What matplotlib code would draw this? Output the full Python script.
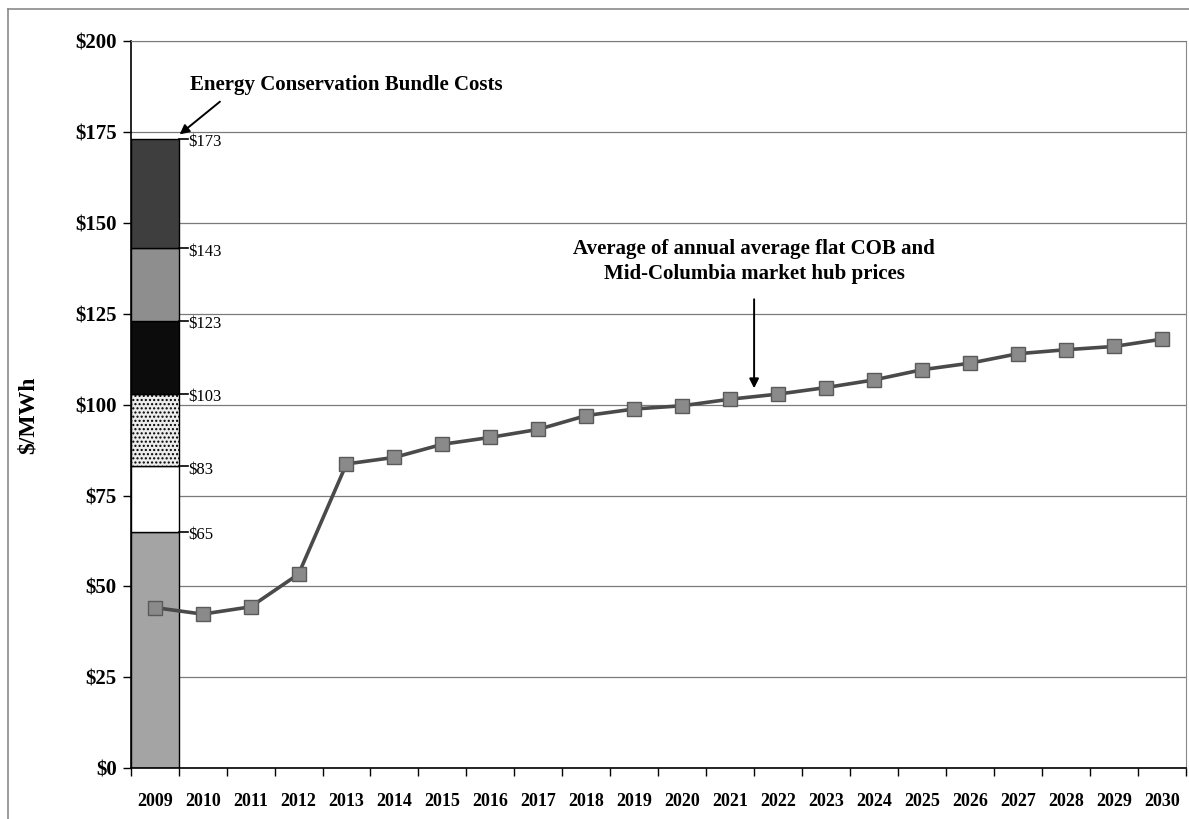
import matplotlib.pyplot as plt
from matplotlib.lines import Line2D

# chart data
years = [str(y) for y in range(2009, 2031)]
market_price = [44.2, 42.4, 44.4, 53.4, 83.7, 85.5, 89.1, 91.0, 93.2, 97.0, 98.8,
                99.7, 101.5, 102.9, 104.7, 106.8, 109.6, 111.4, 114.0, 115.1, 116.0, 118.0]

# conservation bundle cost steps (cumulative tops)
bundle_tops = [65, 83, 103, 123, 143, 173]
bundle_colors = ['#a4a4a4', '#ffffff', '#ececec', '#0c0c0c', '#8e8e8e', '#3e3e3e']
bundle_hatch = [None, None, '....', None, None, None]
y_ticks = [0, 25, 50, 75, 100, 125, 150, 175, 200]

plt.rcParams['font.family'] = ['Liberation Serif', 'DejaVu Serif']
plt.rcParams['hatch.color'] = '#888888'

fig = plt.figure(figsize=(11.89, 8.19), dpi=100)
ax = fig.add_axes([130.7 / 1189, 1 - 768.3 / 819, 1055 / 1189, 727.3 / 819])

x = list(range(len(years)))

# stacked bar for 2009
bottom = 0
for top, col, h in zip(bundle_tops, bundle_colors, bundle_hatch):
    ax.bar(0, top - bottom, bottom=bottom, width=1.0, color=col, edgecolor='black',
           linewidth=1.0, hatch=h, zorder=2)
    bottom = top

# small leader lines + value labels to the right of the bar
for top in bundle_tops:
    ax.plot([0.5, 0.69], [top, top], color='black', lw=1.2, zorder=3, clip_on=False)
    ax.text(0.71, top - 0.9, f'${top}', fontsize=12, va='center', ha='left', zorder=4)

# market price line
ax.plot(x, market_price, color='#4a4a4a', lw=2.6, marker='s', markersize=10,
        markerfacecolor='#8a8a8a', markeredgecolor='#5a5a5a', markeredgewidth=1.0, zorder=5)

ax.set_xlim(-0.5, len(years) - 0.5)
ax.set_ylim(0, 200)
ax.set_yticks(y_ticks)
ax.set_yticklabels([f'${v}' for v in y_ticks], fontsize=15, fontweight='bold')
ax.set_xticks(x)
ax.set_xticklabels(years, fontsize=13, fontweight='bold')
ax.set_xticks([i - 0.5 for i in range(len(years) + 1)], minor=True)
ax.tick_params(axis='x', which='major', length=0, pad=18)
ax.tick_params(axis='x', which='minor', length=6, direction='out', width=1)
ax.tick_params(axis='y', length=6, direction='out', width=1, pad=4)

ax.grid(axis='y', color='#7a7a7a', lw=0.9, zorder=0)
ax.set_axisbelow(True)
ax.spines['left'].set_linewidth(1.2)
ax.spines['bottom'].set_linewidth(1.2)
ax.spines['top'].set_color('#7a7a7a')
ax.spines['right'].set_color('#8a8a8a')
ax.spines['right'].set_linestyle((0, (2, 1)))

ax.set_ylabel('$/MWh', fontsize=17, fontweight='bold')
ax.yaxis.set_label_coords(-0.087, 0.485)

# annotations
ax.annotate('Energy Conservation Bundle Costs', xy=(0.52, 174.3), xytext=(0.74, 187.8),
            fontsize=15, fontweight='bold', ha='left', va='center',
            arrowprops=dict(arrowstyle='-|>', color='black', lw=1.4, shrinkA=4, shrinkB=0,
                            mutation_scale=14, relpos=(0.12, 0.0)))
ax.annotate('Average of annual average flat COB and\nMid-Columbia market hub prices',
            xy=(12.5, 104.5), xytext=(12.5, 139.4),
            fontsize=15, fontweight='bold', ha='center', va='center', linespacing=1.35,
            arrowprops=dict(arrowstyle='-|>', color='black', lw=1.4, shrinkA=9, shrinkB=0,
                            mutation_scale=14))

# outer frame of the original figure
fx = 8 / 1189
fy = 1 - 9 / 819
fig.add_artist(Line2D([fx, fx], [0, fy], color='#8a8a8a', lw=1.2, transform=fig.transFigure))
fig.add_artist(Line2D([fx, 1], [fy, fy], color='#8a8a8a', lw=1.2, transform=fig.transFigure))

fig.savefig('out.png', dpi=100)
